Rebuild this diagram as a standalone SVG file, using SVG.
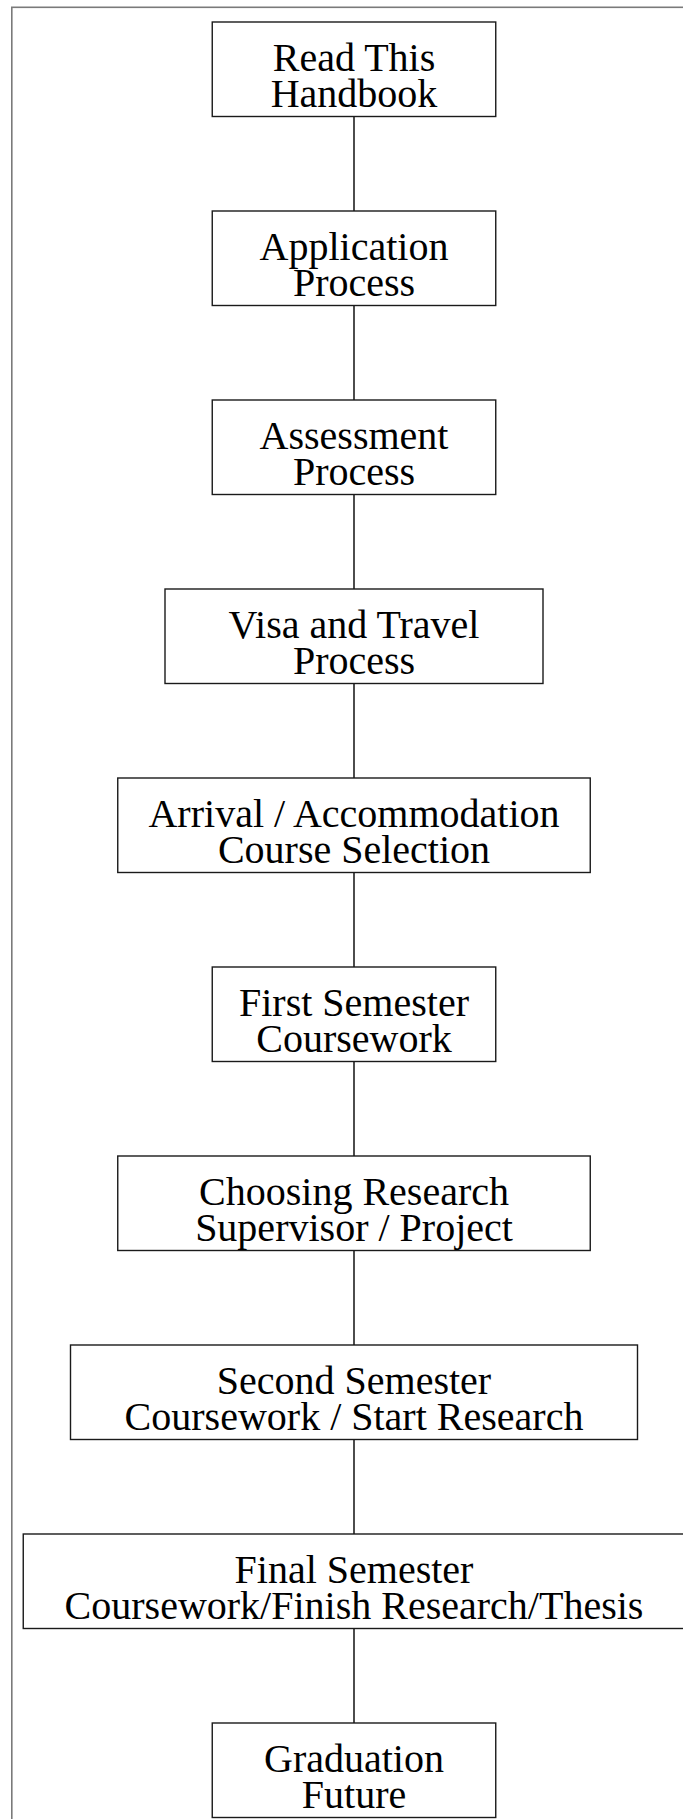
<svg xmlns="http://www.w3.org/2000/svg" width="683" height="1819" viewBox="0 0 683 1819">
<style>
.frame{fill:none;stroke:#7a7a7a;stroke-width:1.6}
.box{fill:#fff;stroke:#1a1a1a;stroke-width:1.4}
.lbl{font-family:"Liberation Serif","Times New Roman",serif;font-size:40px;fill:#000;text-anchor:middle}
.conn{stroke:#000;stroke-width:1.4;fill:none}
</style>
<rect width="683" height="1819" fill="#fff"/>
<rect class="frame" x="11.8" y="7.3" width="700" height="1830"/>
<g id="connectors">
<line class="conn" x1="354" y1="116.5" x2="354" y2="211"/>
<line class="conn" x1="354" y1="305.5" x2="354" y2="400"/>
<line class="conn" x1="354" y1="494.5" x2="354" y2="589"/>
<line class="conn" x1="354" y1="683.5" x2="354" y2="778"/>
<line class="conn" x1="354" y1="872.5" x2="354" y2="967"/>
<line class="conn" x1="354" y1="1061.5" x2="354" y2="1156"/>
<line class="conn" x1="354" y1="1250.5" x2="354" y2="1345"/>
<line class="conn" x1="354" y1="1439.5" x2="354" y2="1534"/>
<line class="conn" x1="354" y1="1628.5" x2="354" y2="1723"/>
</g>
<g id="n1"><rect class="box" x="212.25" y="22" width="283.5" height="94.5"/><text class="lbl" x="354" y="71">Read This</text><text class="lbl" x="354" y="107">Handbook</text></g>
<g id="n2"><rect class="box" x="212.25" y="211" width="283.5" height="94.5"/><text class="lbl" x="354" y="260">Application</text><text class="lbl" x="354" y="296">Process</text></g>
<g id="n3"><rect class="box" x="212.25" y="400" width="283.5" height="94.5"/><text class="lbl" x="354" y="449">Assessment</text><text class="lbl" x="354" y="485">Process</text></g>
<g id="n4"><rect class="box" x="165" y="589" width="378" height="94.5"/><text class="lbl" x="354" y="638">Visa and Travel</text><text class="lbl" x="354" y="674">Process</text></g>
<g id="n5"><rect class="box" x="117.75" y="778" width="472.5" height="94.5"/><text class="lbl" x="354" y="827">Arrival / Accommodation</text><text class="lbl" x="354" y="863">Course Selection</text></g>
<g id="n6"><rect class="box" x="212.25" y="967" width="283.5" height="94.5"/><text class="lbl" x="354" y="1016">First Semester</text><text class="lbl" x="354" y="1052">Coursework</text></g>
<g id="n7"><rect class="box" x="117.75" y="1156" width="472.5" height="94.5"/><text class="lbl" x="354" y="1205">Choosing Research</text><text class="lbl" x="354" y="1241">Supervisor / Project</text></g>
<g id="n8"><rect class="box" x="70.5" y="1345" width="567" height="94.5"/><text class="lbl" x="354" y="1394">Second Semester</text><text class="lbl" x="354" y="1430">Coursework / Start Research</text></g>
<g id="n9"><rect class="box" x="23.25" y="1534" width="661.5" height="94.5"/><text class="lbl" x="354" y="1583">Final Semester</text><text class="lbl" x="354" y="1619">Coursework/Finish Research/Thesis</text></g>
<g id="n10"><rect class="box" x="212.25" y="1723" width="283.5" height="94.5"/><text class="lbl" x="354" y="1772">Graduation</text><text class="lbl" x="354" y="1808">Future</text></g>
</svg>
